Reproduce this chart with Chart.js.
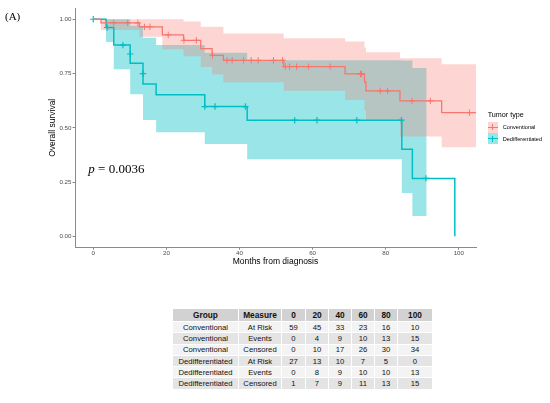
<!DOCTYPE html>
<html>
<head>
<meta charset="utf-8">
<script src="https://cdn.jsdelivr.net/npm/chart.js@4.4.0/dist/chart.umd.min.js"></script>
<style>
  html, body { margin: 0; padding: 0; background: #fff; width: 550px; height: 403px; overflow: hidden; }
  #wrap { position: relative; width: 550px; height: 403px; font-family: "Liberation Sans", Arial, sans-serif; }
  #c { position: absolute; left: 0; top: 0; }
  .lbl { position: absolute; white-space: nowrap; line-height: 1; color: #000; }
  .key { position: absolute; width: 10.6px; height: 11px; }
  .key i { position: absolute; display: block; }
  .key .h { left: 0; right: 0; top: 5px; height: 1.2px; }
  .key .v { left: 4.8px; width: 1px; top: 2.5px; height: 6px; }
  #tbl { position: absolute; left: 172px; top: 308px; width: 260px; border-collapse: collapse; table-layout: fixed; }
  #tbl th, #tbl td { border: 1px solid #fff; padding: 0; text-align: center; white-space: nowrap; color: #111; overflow: hidden; }
  #tbl th { background: #d2d2d2; font-weight: bold; font-size: 8.3px; height: 12px; }
  #tbl td { font-size: 7.7px; height: 10.3px; }
  #tbl tbody tr:nth-child(odd) td { background: #f3f3f3; }
  #tbl tbody tr:nth-child(even) td { background: #e4e4e4; }
</style>
</head>
<body>
<div id="wrap">
  <canvas id="c" width="550" height="280" style="width:550px;height:280px"></canvas>
  <div class="lbl" style="left:5px;top:10.5px;font-family:'Liberation Serif','Times New Roman',serif;font-size:11px">(A)</div>
  <div class="lbl" style="left:88.3px;top:162.4px;font-family:'Liberation Serif','Times New Roman',serif;font-size:13px"><i>p</i> = 0.0036</div>
  <div id="legend"></div>
  <table id="tbl"></table>
</div>
<script>
// survival curves (months, survival probability)
const convTimes = [0, 2.1, 12.6, 18.9, 24.7, 29.4, 32.5, 35.6, 52.1, 68.9, 74.2, 74.6, 83.9, 95.3, 104.7];
const convSurv  = [1, 0.983, 0.965, 0.928, 0.903, 0.865, 0.834, 0.811, 0.782, 0.748, 0.71, 0.67, 0.624, 0.57, 0.57];
const convUpper = [1, 1, 1, 1, 0.99, 0.965, 0.965, 0.934, 0.912, 0.897, 0.87, 0.848, 0.82, 0.793, 0.793];
const convLower = [1, 0.95, 0.919, 0.862, 0.83, 0.78, 0.745, 0.71, 0.671, 0.628, 0.58, 0.535, 0.46, 0.41, 0.41];

const dedTimes = [0, 3.5, 5.6, 10.1, 13.6, 17.2, 30.5, 42.1, 84.4, 87.3, 98.9];
const dedSurv  = [1, 0.962, 0.881, 0.797, 0.702, 0.652, 0.598, 0.535, 0.401, 0.267, 0];
const dedBandTimes = [0, 3.5, 5.6, 10.1, 13.6, 17.2, 30.5, 42.1, 84.4, 87.3, 91.2];
const dedUpper = [1, 1, 1, 0.97, 0.915, 0.881, 0.846, 0.811, 0.81, 0.775, 0.775];
const dedLower = [1, 0.895, 0.77, 0.654, 0.536, 0.479, 0.425, 0.355, 0.2, 0.094, 0.094];

// censoring marks
const convCensT = [5.6, 9.4, 12.2, 14.0, 15.5, 20.5, 24.8, 28.2, 32.6, 36.6, 38.0, 41.1, 43.2, 45.1, 49.3, 51.8, 52.5, 53.7, 55.6, 58.9, 64.8, 73.1, 73.4, 78.5, 80.5, 87.2, 92.2, 102.9];
const convCensS = [0.983, 0.983, 0.983, 0.965, 0.965, 0.928, 0.903, 0.903, 0.834, 0.811, 0.811, 0.811, 0.811, 0.811, 0.811, 0.811, 0.782, 0.782, 0.782, 0.782, 0.782, 0.748, 0.748, 0.67, 0.67, 0.624, 0.624, 0.57];
const dedCensT = [0, 3.8, 8.1, 10.1, 13.6, 30.5, 33.3, 41.6, 55.1, 61.2, 72.1, 84.3, 91.0];
const dedCensS = [1, 0.962, 0.881, 0.84, 0.75, 0.598, 0.598, 0.598, 0.535, 0.535, 0.535, 0.535, 0.267];

const groups = ['Conventional', 'Dedifferentiated'];
const xTicks = [0, 20, 40, 60, 80, 100];
const yTicks = [0, 0.25, 0.5, 0.75, 1];

// risk table
const tableHead = ['Group', 'Measure', '0', '20', '40', '60', '80', '100'];
const tableGroup = ['Conventional', 'Conventional', 'Conventional', 'Dedifferentiated', 'Dedifferentiated', 'Dedifferentiated'];
const tableMeasure = ['At Risk', 'Events', 'Censored', 'At Risk', 'Events', 'Censored'];
const tableValues = [
  [59, 45, 33, 23, 16, 10],
  [0, 4, 9, 10, 13, 15],
  [0, 10, 17, 26, 30, 34],
  [27, 13, 10, 7, 5, 0],
  [0, 8, 9, 10, 10, 13],
  [1, 7, 9, 11, 13, 15]
];
const colWidths = [66, 43, 24, 23, 23, 23, 23, 35];

const red = '#F8766D', cyan = '#00BFC4';
const font = '"Liberation Sans", Arial, sans-serif';

function pts(t, s) { return t.map((v, i) => ({ x: v, y: s[i] })); }

function band(t, s, fill, color) {
  return {
    type: 'line', data: pts(t, s), stepped: true, borderColor: 'transparent',
    pointRadius: 0, fill: fill, backgroundColor: color
  };
}

new Chart(document.getElementById('c'), {
  type: 'line',
  data: {
    datasets: [
      band(convTimes, convUpper, false, 'transparent'),
      band(convTimes, convLower, '-1', 'rgba(248,118,109,0.3)'),
      band(dedBandTimes, dedUpper, false, 'transparent'),
      band(dedBandTimes, dedLower, '-1', 'rgba(0,191,196,0.4)'),
      { type: 'line', data: pts(convTimes, convSurv), stepped: true, borderColor: red, borderWidth: 1.3, pointRadius: 0, fill: false },
      { type: 'line', data: pts(dedTimes, dedSurv), stepped: true, borderColor: cyan, borderWidth: 1.5, pointRadius: 0, fill: false },
      { type: 'line', data: pts(convCensT, convCensS), showLine: false, pointStyle: 'cross', pointRadius: 3.2, borderColor: red, borderWidth: 1, fill: false },
      { type: 'line', data: pts(dedCensT, dedCensS), showLine: false, pointStyle: 'cross', pointRadius: 3.2, borderColor: cyan, borderWidth: 1.2, fill: false }
    ]
  },
  options: {
    responsive: false,
    animation: false,
    events: [],
    layout: { padding: { top: 8.4, right: 74, left: 0, bottom: 0 } },
    plugins: {
      legend: { display: false },
      tooltip: { enabled: false },
      filler: { drawTime: 'beforeDatasetsDraw' }
    },
    scales: {
      x: {
        type: 'linear', min: -5, max: 104.7,
        afterBuildTicks: s => { s.ticks = xTicks.map(v => ({ value: v })); },
        afterFit: s => { s.height = 32.8; },
        grid: { drawOnChartArea: false, drawTicks: true, tickLength: 2.5, color: '#8a8a8a' },
        border: { display: true, color: '#8a8a8a', width: 1 },
        ticks: { font: { size: 6.2, family: font }, color: '#4d4d4d', padding: 0.3, maxRotation: 0, autoSkip: false, callback: v => String(v) },
        title: { display: true, text: 'Months from diagnosis', color: '#000', font: { size: 8.5, family: font }, padding: { top: 0, bottom: 12.9 } }
      },
      y: {
        type: 'linear', min: -0.05, max: 1.05,
        afterBuildTicks: s => { s.ticks = yTicks.map(v => ({ value: v })); },
        afterFit: s => { s.width = 75; },
        grid: { drawOnChartArea: false, drawTicks: true, tickLength: 2.5, color: '#8a8a8a' },
        border: { display: true, color: '#8a8a8a', width: 1 },
        ticks: { font: { size: 6.2, family: font }, color: '#4d4d4d', padding: 1, autoSkip: false, callback: v => v.toFixed(2) },
        title: { display: true, text: 'Overall survival', color: '#000', font: { size: 8.5, family: font }, padding: { top: 47.2, bottom: 0 } }
      }
    }
  }
});

// legend
const legend = document.getElementById('legend');
let html = '<div class="lbl" style="left:487.7px;top:111.4px;font-size:7.2px">Tumor type</div>';
const keyFill = ['rgb(253,214,211)', 'rgb(153,229,231)'];
const keyLine = [red, cyan];
groups.forEach((g, i) => {
  const top = 121.7 + i * 11.6;
  html += '<div class="key" style="left:487.7px;top:' + top + 'px;background:' + keyFill[i] + '">' +
    '<i class="h" style="background:' + keyLine[i] + '"></i><i class="v" style="background:' + keyLine[i] + '"></i></div>';
  html += '<div class="lbl" style="left:502.7px;top:' + (top + 3.2) + 'px;font-size:5.6px">' + g + '</div>';
});
legend.innerHTML = html;

// risk table
let t = '<colgroup>' + colWidths.map(w => '<col style="width:' + w + 'px">').join('') + '</colgroup>';
t += '<thead><tr>' + tableHead.map(h => '<th>' + h + '</th>').join('') + '</tr></thead><tbody>';
tableValues.forEach((row, i) => {
  t += '<tr><td>' + tableGroup[i] + '</td><td>' + tableMeasure[i] + '</td>' + row.map(v => '<td>' + v + '</td>').join('') + '</tr>';
});
t += '</tbody>';
document.getElementById('tbl').innerHTML = t;
</script>
</body>
</html>
